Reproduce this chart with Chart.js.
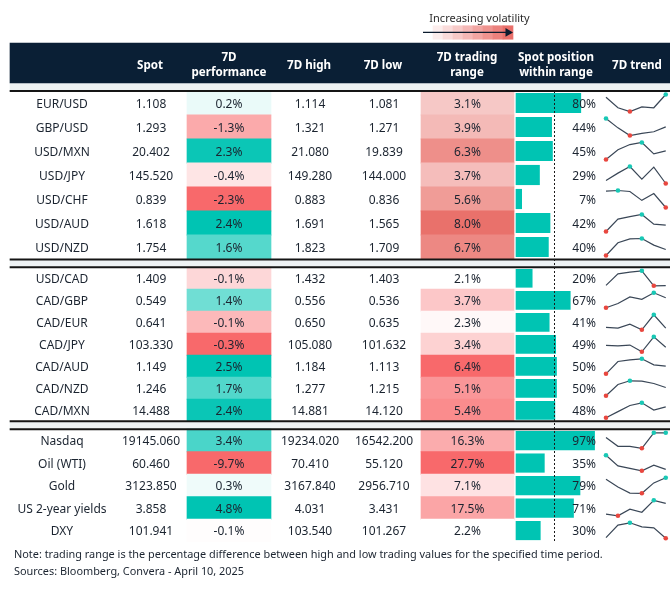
<!DOCTYPE html>
<html>
<head>
<meta charset="utf-8">
<title>7D volatility table</title>
<script src="https://cdn.jsdelivr.net/npm/chart.js@4.4.1/dist/chart.umd.min.js"></script>
<style>
html, body { margin: 0; padding: 0; background: #fff; }
#wrap { position: relative; width: 670px; height: 589px; overflow: hidden; font-family: "Noto Sans", sans-serif; color: #1b2430; }
#board { position: absolute; left: 0; top: 0; }
#labels { position: absolute; left: 0; top: 0; width: 670px; height: 589px; pointer-events: none; }
.t { position: absolute; white-space: nowrap; font-size: 12px; line-height: 1; transform: translate(-50%, -50%); }
.r { transform: translate(-100%, -50%); }
.h { color: #fff; font-weight: 700; font-size: 11.6px; text-align: center; line-height: 15px; }
.small { font-size: 11px; color: #2b2b2b; }
.note { position: absolute; left: 14px; font-size: 10.9px; line-height: 1; white-space: nowrap; transform: translateY(-50%); }
</style>
</head>
<body>
<div id="wrap">
  <canvas id="board"></canvas>
  <div id="labels"></div>
</div>
<script>
(function () {
    "use strict";

    // data
    const pairs = ['EUR/USD', 'GBP/USD', 'USD/MXN', 'USD/JPY', 'USD/CHF', 'USD/AUD', 'USD/NZD',
        'USD/CAD', 'CAD/GBP', 'CAD/EUR', 'CAD/JPY', 'CAD/AUD', 'CAD/NZD', 'CAD/MXN',
        'Nasdaq', 'Oil (WTI)', 'Gold', 'US 2-year yields', 'DXY'];
    const groupOf = [0, 0, 0, 0, 0, 0, 0, 1, 1, 1, 1, 1, 1, 1, 2, 2, 2, 2, 2];
    const spot = [1.108, 1.293, 20.402, 145.520, 0.839, 1.618, 1.754,
        1.409, 0.549, 0.641, 103.330, 1.149, 1.246, 14.488,
        19145.060, 60.460, 3123.850, 3.858, 101.941];
    const perf7d = [0.2, -1.3, 2.3, -0.4, -2.3, 2.4, 1.6,
        -0.08, 1.4, -0.14, -0.3, 2.5, 1.7, 2.4,
        3.4, -9.7, 0.3, 4.8, -0.1];
    const high7d = [1.114, 1.321, 21.080, 149.280, 0.883, 1.691, 1.823,
        1.432, 0.556, 0.650, 105.080, 1.184, 1.277, 14.881,
        19234.020, 70.410, 3167.840, 4.031, 103.540];
    const low7d = [1.081, 1.271, 19.839, 144.000, 0.836, 1.565, 1.709,
        1.403, 0.536, 0.635, 101.632, 1.113, 1.215, 14.120,
        16542.200, 55.120, 2956.710, 3.431, 101.267];
    const range7d = [3.1, 3.9, 6.3, 3.7, 5.6, 8.0, 6.7,
        2.1, 3.7, 2.3, 3.4, 6.4, 5.1, 5.4,
        16.3, 27.7, 7.1, 17.5, 2.2];
    const posPct = [80, 44, 45, 29, 7, 42, 40,
        20, 67, 41, 49, 50, 50, 48,
        97, 35, 79, 71, 30];
    // 7 day trend, relative level per day (0 = low of week, 100 = high)
    const trend = [
        [84, 22, 0, 27, 22, 100],
        [100, 45, 0, 12, 22, 51],
        [0, 57, 88, 100, 33, 51],
        [18, 61, 100, 25, 96, 0],
        [96, 100, 94, 42, 82, 0],
        [0, 73, 88, 100, 43, 37],
        [0, 75, 98, 100, 61, 35],
        [3, 80, 91, 100, 0, 1],
        [0, 29, 73, 56, 100, 67],
        [16, 11, 38, 0, 100, 11],
        [43, 39, 45, 0, 100, 30],
        [0, 82, 93, 100, 60, 51],
        [0, 75, 100, 98, 82, 55],
        [0, 41, 82, 100, 52, 73],
        [70, 13, 13, 0, 100, 100],
        [100, 32, 16, 0, 36, 9],
        [90, 40, 1, 0, 67, 100],
        [11, 0, 43, 23, 100, 80],
        [4, 85, 100, 74, 67, 0]
    ];
    const volSteps = [1, 2, 3, 4, 5, 6, 7, 8];
    const headers = [
        { x: 150, text: 'Spot' },
        { x: 229, text: '7D<br>performance' },
        { x: 309, text: '7D high' },
        { x: 383, text: '7D low' },
        { x: 467, text: '7D trading<br>range' },
        { x: 556, text: 'Spot position<br>within range' },
        { x: 637, text: '7D trend' }
    ];

    // layout (pixels)
    const W = 670, H = 589;
    const groupTop = [91, 267.3, 429.3];
    const rowH = [24, 22, 22.5];
    const barH = [19.5, 18, 18.5];
    const col = { label: 62, spot: 151, perf: [187, 271], high: 310, low: 384, range: [421, 514],
        posStart: 516, pxPerPct: 0.81, pctRight: 596, trendX0: 606, trendStep: 11.95 };

    const TEAL = [0, 196, 179], RED = [248, 105, 107], WHITE = [255, 255, 255];
    const rangeHot = [[233, 113, 107], RED, RED];
    const rangeLow = [0, null, null]; // first block is scaled from zero

    function mix(a, b, t) {
        t = Math.max(0, Math.min(1, t));
        return 'rgb(' + a.map((c, k) => Math.round(c + (b[k] - c) * t)).join(',') + ')';
    }
    function groupVals(arr, g) { return arr.filter((_, i) => groupOf[i] === g); }

    function perfColor(v, g) {
        const vals = groupVals(perf7d, g);
        if (v >= 0) return mix(WHITE, TEAL, v / Math.max(...vals));
        return mix(WHITE, RED, v / Math.min(...vals));
    }
    function rangeColor(v, g) {
        const vals = groupVals(range7d, g);
        const lo = rangeLow[g] === null ? Math.min(...vals) : rangeLow[g];
        return mix(WHITE, rangeHot[g], (v - lo) / (Math.max(...vals) - lo));
    }

    // row positions
    const rowIndexInGroup = [];
    const seen = [0, 0, 0];
    groupOf.forEach((g, i) => { rowIndexInGroup[i] = seen[g]++; });
    function rowTop(i) { const g = groupOf[i]; return groupTop[g] + rowIndexInGroup[i] * rowH[g]; }
    function rowY(i) { return rowTop(i) + rowH[groupOf[i]] / 2; }

    const datasets = [];
    const full = [10, W]; // table spans x 10..670

    // frame: header band, grey strips, rules
    datasets.push({ type: 'bar', indexAxis: 'y', grouped: false, order: 10, barThickness: 40,
        backgroundColor: '#0a1f35', data: [{ x: full, y: 63 }] });
    datasets.push({ type: 'bar', indexAxis: 'y', grouped: false, order: 10, barThickness: 8,
        backgroundColor: '#eef2f4', data: [{ x: full, y: 87 }, { x: full, y: 263.4 }, { x: full, y: 425.3 }] });
    datasets.push({ type: 'bar', indexAxis: 'y', grouped: false, order: 2, barThickness: 1.4,
        backgroundColor: '#151515', data: [91, 259.5, 267.3, 421.3, 429.3].map(y => ({ x: full, y: y })) });

    // heat cells and position bars, one set per block
    [0, 1, 2].forEach(g => {
        const idx = pairs.map((_, i) => i).filter(i => groupOf[i] === g);
        datasets.push({ type: 'bar', indexAxis: 'y', grouped: false, order: 5, barThickness: rowH[g] + 0.4,
            backgroundColor: idx.map(i => perfColor(perf7d[i], g)),
            data: idx.map(i => ({ x: col.perf, y: rowY(i) })) });
        datasets.push({ type: 'bar', indexAxis: 'y', grouped: false, order: 5, barThickness: rowH[g] + 0.4,
            backgroundColor: idx.map(i => rangeColor(range7d[i], g)),
            data: idx.map(i => ({ x: col.range, y: rowY(i) })) });
        datasets.push({ type: 'bar', indexAxis: 'y', grouped: false, order: 5, barThickness: barH[g],
            xAxisID: 'xp', backgroundColor: '#00c4b3',
            data: idx.map(i => ({ x: [0, posPct[i]], y: rowY(i) })) });
    });

    // volatility legend boxes
    datasets.push({ type: 'bar', indexAxis: 'y', grouped: false, order: 5, barThickness: 13.5,
        backgroundColor: volSteps.map(s => mix(WHITE, [233, 111, 106], s / volSteps.length)),
        data: volSteps.map(s => ({ x: [433 + (s - 1) * 10, 433 + s * 10], y: 32.5 })) });

    // legend arrow
    datasets.push({ type: 'line', order: 1, borderColor: '#0b1b2e', borderWidth: 1.3,
        pointRadius: [0, 5], pointStyle: 'triangle', pointRotation: 90,
        pointBackgroundColor: '#0b1b2e', pointBorderWidth: 0,
        data: [{ x: 423, y: 32.4 }, { x: 508, y: 32.4 }] });

    // dashed midpoint marker in the position column
    datasets.push({ type: 'line', order: 1, borderColor: '#1a1a1a', borderWidth: 1, borderDash: [2, 2],
        pointRadius: 0, data: [{ x: 554.5, y: 91 }, { x: 554.5, y: 542 }] });

    // sparklines
    trend.forEach((vals, i) => {
        const g = groupOf[i];
        const inset = 3.5;
        const top = rowTop(i) + inset, span = rowH[g] - 2 * inset;
        const hi = Math.max(...vals), lo = Math.min(...vals);
        datasets.push({ type: 'line', order: 0, xAxisID: 'xt', borderColor: '#3a4757', borderWidth: 1.2,
            tension: 0, pointBorderWidth: 0,
            pointRadius: vals.map(v => (v === hi || v === lo) ? 2.3 : 0),
            pointBackgroundColor: vals.map(v => v === hi ? '#19c8b5' : '#e8473f'),
            data: vals.map((v, d) => ({ x: d, y: top + (1 - (v - lo) / (hi - lo)) * span })) });
    });

    new Chart(document.getElementById('board'), {
        type: 'bar',
        data: { datasets: datasets },
        options: {
            responsive: true,
            maintainAspectRatio: false,
            animation: false,
            events: [],
            layout: { padding: 0, autoPadding: false },
            plugins: { legend: { display: false }, tooltip: { enabled: false } },
            scales: {
                x: { type: 'linear', display: false, offset: false, min: 0, max: W },
                xp: { type: 'linear', display: false, offset: false,
                    min: -col.posStart / col.pxPerPct, max: (W - col.posStart) / col.pxPerPct },
                xt: { type: 'linear', display: false, offset: false,
                    min: -col.trendX0 / col.trendStep, max: (W - col.trendX0) / col.trendStep },
                y: { type: 'linear', display: false, offset: false, reverse: true, min: 0, max: H }
            }
        }
    });

    // text layer
    const labels = document.getElementById('labels');
    function put(x, y, html, cls) {
        const el = document.createElement('div');
        el.className = 't' + (cls ? ' ' + cls : '');
        el.style.left = x + 'px';
        el.style.top = y + 'px';
        el.innerHTML = html;
        labels.appendChild(el);
    }
    put(479.5, 17, 'Increasing volatility', 'small');
    headers.forEach(h => put(h.x, 63.5, h.text, 'h'));

    pairs.forEach((p, i) => {
        const y = rowY(i) + 0.5;
        put(col.label, y, p);
        put(col.spot, y, spot[i].toFixed(3));
        put((col.perf[0] + col.perf[1]) / 2, y, perf7d[i].toFixed(1) + '%');
        put(col.high, y, high7d[i].toFixed(3));
        put(col.low, y, low7d[i].toFixed(3));
        put((col.range[0] + col.range[1]) / 2, y, range7d[i].toFixed(1) + '%');
        put(col.pctRight, y, posPct[i] + '%', 'r');
    });

    const notes = ['Note: trading range is the percentage difference between high and low trading values for the specified time period.',
        'Sources: Bloomberg, Convera - April 10, 2025'];
    notes.forEach((n, k) => {
        const el = document.createElement('div');
        el.className = 'note';
        el.style.top = (554 + k * 17) + 'px';
        el.textContent = n;
        labels.appendChild(el);
    });
})();
</script>
</body>
</html>
